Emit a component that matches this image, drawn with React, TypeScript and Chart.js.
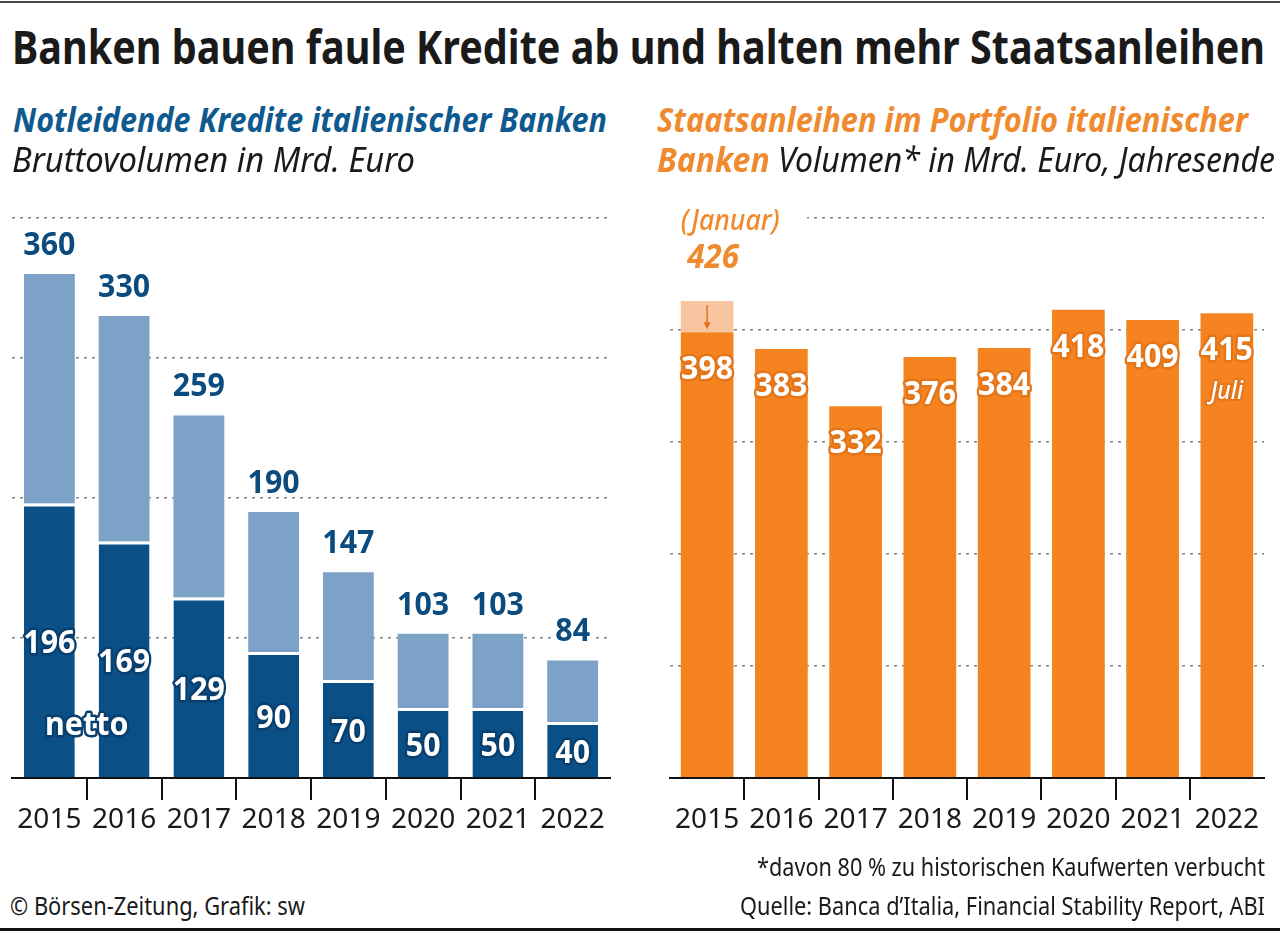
import React, { useEffect, useRef } from 'react';
import { Chart, registerables } from 'chart.js';

Chart.register(...registerables);

// ---------- data ----------
const years = ['2015', '2016', '2017', '2018', '2019', '2020', '2021', '2022'];
const bruttoNPL = [360, 330, 259, 190, 147, 103, 103, 84];
const nettoNPL = [196, 169, 129, 90, 70, 50, 50, 40];
const staatsanleihen = [398, 383, 332, 376, 384, 418, 409, 415];
const januarSpitze: (number | null)[] = [426, null, null, null, null, null, null, null];
const leftAxisMax = 400;
const rightAxisMax = 500;
const gridStep = 100;
const nettoText = 'netto';
const januarText = '(Januar)';
const juliText = 'Juli';

// ---------- styles ----------
const FAMILY = '"Noto Sans", "Open Sans", sans-serif';
const DARK = '#0a5087';
const LIGHT = '#7da2c7';
const DARK_STROKE = '#083f6e';
const TOP_BLUE = '#0b4b7e';
const ORANGE = '#f5831f';
const ORANGE_LIGHT = '#f9c4a0';
const ORANGE_STROKE = '#e3761a';
const ORANGE_TEXT = '#ef8a2e';
const GRID = '#858585';

document.body.style.margin = '0';

const mctx = document.createElement('canvas').getContext('2d') as CanvasRenderingContext2D;

type Part = { text: string; color: string; weight?: number; italic?: boolean };

function fontOf(p: { weight?: number; italic?: boolean }, size: number) {
  return `${p.italic ? 'italic ' : ''}${p.weight || 400} ${size}px ${FAMILY}`;
}

function Line(props: { left: number; right: number; baseline: number; size: number; parts: Part[] }) {
  const { left, right, baseline, size, parts } = props;
  let total = 0;
  let asc = 0;
  let desc = 0;
  parts.forEach((p) => {
    mctx.font = fontOf(p, size);
    const m = mctx.measureText(p.text);
    total += m.width;
    asc = Math.max(asc, m.fontBoundingBoxAscent || size * 1.069);
    desc = Math.max(desc, m.fontBoundingBoxDescent || size * 0.293);
  });
  const scale = (right - left) / total;
  const lh = size;
  const top = baseline - ((lh - (asc + desc)) / 2 + asc);
  return (
    <div
      style={{
        position: 'absolute',
        left,
        top,
        whiteSpace: 'pre',
        lineHeight: lh + 'px',
        fontSize: size,
        fontFamily: FAMILY,
        transform: `scaleX(${scale})`,
        transformOrigin: '0 0',
      }}
    >
      {parts.map((p, i) => (
        <span key={i} style={{ color: p.color, fontWeight: p.weight || 400, fontStyle: p.italic ? 'italic' : 'normal' }}>
          {p.text}
        </span>
      ))}
    </div>
  );
}

function drawText(
  ctx: CanvasRenderingContext2D,
  text: string,
  x: number,
  y: number,
  font: string,
  fill: string,
  stroke: string | null,
  lw: number,
  sx: number
) {
  ctx.save();
  ctx.translate(x, y);
  ctx.scale(sx, 1);
  ctx.font = font;
  ctx.textAlign = 'center';
  ctx.textBaseline = 'alphabetic';
  if (stroke) {
    ctx.lineWidth = lw;
    ctx.strokeStyle = stroke;
    ctx.lineJoin = 'round';
    ctx.strokeText(text, 0, 0);
  }
  ctx.fillStyle = fill;
  ctx.fillText(text, 0, 0);
  ctx.restore();
}

const leftLabels = {
  id: 'leftLabels',
  afterDatasetsDraw(chart: any) {
    const ctx = chart.ctx as CanvasRenderingContext2D;
    const nettoMeta = chart.getDatasetMeta(0);
    const restMeta = chart.getDatasetMeta(1);
    const bold = `700 33px ${FAMILY}`;
    nettoMeta.data.forEach((bar: any, i: number) => {
      const mid = (bar.y + bar.base) / 2;
      drawText(ctx, String(nettoNPL[i]), bar.x, mid + 13, bold, '#ffffff', DARK_STROKE, 5, 0.92);
    });
    restMeta.data.forEach((bar: any, i: number) => {
      drawText(ctx, String(bruttoNPL[i]), bar.x, bar.y - 19, bold, TOP_BLUE, '#ffffff', 7, 0.92);
    });
    const b0 = nettoMeta.data[0];
    const b1 = nettoMeta.data[1];
    const base = chart.scales.y.getPixelForValue(0);
    drawText(ctx, nettoText, (b0.x + b1.x) / 2, base - 43, `700 32px ${FAMILY}`, '#ffffff', DARK_STROKE, 5, 0.95);
  },
};

const rightLabels = {
  id: 'rightLabels',
  afterDatasetsDraw(chart: any) {
    const ctx = chart.ctx as CanvasRenderingContext2D;
    const meta = chart.getDatasetMeta(0);
    const bold = `700 33px ${FAMILY}`;
    meta.data.forEach((bar: any, i: number) => {
      drawText(ctx, String(staatsanleihen[i]), bar.x, bar.y + 47, bold, '#ffffff', ORANGE_STROKE, 5, 0.92);
    });
    const last = meta.data[meta.data.length - 1];
    drawText(ctx, juliText, last.x, last.y + 86, `italic 500 25px ${FAMILY}`, '#ffffff', ORANGE_STROKE, 4, 0.92);

    const jm = chart.getDatasetMeta(1);
    januarSpitze.forEach((v, i) => {
      if (v == null) return;
      const seg = jm.data[i];
      const x = seg.x;
      const top = chart.scales.y.getPixelForValue(v);
      const low = chart.scales.y.getPixelForValue(staatsanleihen[i]);
      // white background behind the annotation
      ctx.save();
      ctx.fillStyle = '#ffffff';
      ctx.fillRect(x - 42, top - 98, 142, 34);
      ctx.restore();
      drawText(ctx, januarText, x + 23, top - 71, `italic 500 28px ${FAMILY}`, ORANGE_TEXT, null, 0, 0.95);
      drawText(ctx, String(v), x + 6, top - 33, `italic 700 34px ${FAMILY}`, ORANGE_TEXT, null, 0, 0.92);
      // arrow
      ctx.save();
      ctx.strokeStyle = ORANGE_STROKE;
      ctx.fillStyle = ORANGE_STROKE;
      ctx.lineWidth = 1.5;
      ctx.beginPath();
      ctx.moveTo(x, top + 4);
      ctx.lineTo(x, low - 4);
      ctx.stroke();
      ctx.beginPath();
      ctx.moveTo(x - 3.5, low - 10);
      ctx.lineTo(x + 3.5, low - 10);
      ctx.lineTo(x, low - 3);
      ctx.closePath();
      ctx.fill();
      ctx.restore();
    });
  },
};

function xScale(n: number) {
  return {
    stacked: true,
    grid: {
      offset: true,
      drawOnChartArea: false,
      drawTicks: true,
      tickLength: 22,
      lineWidth: 2,
      color: (c: any) => (c.type !== 'tick' || c.index === 0 || c.index === n ? 'rgba(0,0,0,0)' : '#111111'),
      tickColor: (c: any) => (c.type !== 'tick' || c.index === 0 || c.index === n ? 'rgba(0,0,0,0)' : '#111111'),
    },
    border: { display: true, color: '#111111', width: 2, z: 1 },
    ticks: { color: '#1a1a1a', font: { size: 28, family: FAMILY }, padding: 3, maxRotation: 0, autoSkip: false },
    afterFit: (s: any) => {
      s.height = 72;
    },
  };
}

function yScale(max: number) {
  return {
    stacked: true,
    min: 0,
    max,
    ticks: { display: false, stepSize: gridStep },
    grid: { color: GRID, lineWidth: 1.5, drawTicks: false },
    border: { display: false, dash: [3, 5] },
    afterFit: (s: any) => {
      s.width = 0;
    },
  };
}

function LeftChart() {
  const ref = useRef<HTMLCanvasElement>(null);
  useEffect(() => {
    const chart = new Chart(ref.current as HTMLCanvasElement, {
      type: 'bar',
      data: {
        labels: years,
        datasets: [
          {
            label: 'netto',
            data: nettoNPL,
            backgroundColor: DARK,
            borderColor: '#ffffff',
            borderWidth: { top: 3, left: 0, right: 0, bottom: 0 },
            borderSkipped: false,
            stack: 's',
          },
          {
            label: 'brutto',
            data: bruttoNPL.map((b, i) => b - nettoNPL[i]),
            backgroundColor: LIGHT,
            borderWidth: 0,
            stack: 's',
          },
        ],
      },
      options: {
        animation: false,
        responsive: false,
        devicePixelRatio: 1,
        layout: { padding: { left: 12, right: 30, top: 38, bottom: 10 } },
        plugins: { legend: { display: false }, tooltip: { enabled: false } },
        datasets: { bar: { categoryPercentage: 1, barPercentage: 0.68 } },
        scales: { x: xScale(years.length), y: yScale(leftAxisMax) },
      } as any,
      plugins: [leftLabels],
    });
    return () => chart.destroy();
  }, []);
  return <canvas ref={ref} width={640} height={680} style={{ position: 'absolute', left: 0, top: 180 }} />;
}

function RightChart() {
  const ref = useRef<HTMLCanvasElement>(null);
  useEffect(() => {
    const chart = new Chart(ref.current as HTMLCanvasElement, {
      type: 'bar',
      data: {
        labels: years,
        datasets: [
          {
            label: 'Jahresende',
            data: staatsanleihen,
            backgroundColor: ORANGE,
            borderWidth: 0,
            stack: 's',
          },
          {
            label: 'Januar',
            data: januarSpitze.map((v, i) => (v == null ? null : v - staatsanleihen[i])),
            backgroundColor: ORANGE_LIGHT,
            borderWidth: 0,
            stack: 's',
          },
        ],
      },
      options: {
        animation: false,
        responsive: false,
        devicePixelRatio: 1,
        layout: { padding: { left: 30, right: 16, top: 38, bottom: 10 } },
        plugins: { legend: { display: false }, tooltip: { enabled: false } },
        datasets: { bar: { categoryPercentage: 1, barPercentage: 0.71 } },
        scales: { x: xScale(years.length), y: yScale(rightAxisMax) },
      } as any,
      plugins: [rightLabels],
    });
    return () => chart.destroy();
  }, []);
  return <canvas ref={ref} width={640} height={680} style={{ position: 'absolute', left: 640, top: 180 }} />;
}

export default function App() {
  const black = '#1a1a1a';
  return (
    <div style={{ position: 'relative', width: 1280, height: 931, overflow: 'hidden', background: '#ffffff' }}>
      <div style={{ position: 'absolute', left: 0, top: 1, width: 1280, height: 2, background: '#4a4a4a' }} />
      <div style={{ position: 'absolute', left: 0, top: 928, width: 1280, height: 3, background: '#111111' }} />
      <LeftChart />
      <RightChart />
      <Line left={12} right={1265} baseline={64} size={47} parts={[{ text: 'Banken bauen faule Kredite ab und halten mehr Staatsanleihen', color: black, weight: 700 }]} />
      <Line left={13} right={607} baseline={132} size={34} parts={[{ text: 'Notleidende Kredite italienischer Banken', color: '#0e5a8e', weight: 700, italic: true }]} />
      <Line left={12} right={415} baseline={172} size={34} parts={[{ text: 'Bruttovolumen in Mrd. Euro', color: black, italic: true }]} />
      <Line left={657} right={1248} baseline={132} size={34} parts={[{ text: 'Staatsanleihen im Portfolio italienischer', color: ORANGE_TEXT, weight: 700, italic: true }]} />
      <Line
        left={657}
        right={1275}
        baseline={172}
        size={34}
        parts={[
          { text: 'Banken', color: ORANGE_TEXT, weight: 700, italic: true },
          { text: ' Volumen* in Mrd. Euro, Jahresende', color: black, italic: true },
        ]}
      />
      <Line left={757} right={1265} baseline={876} size={26} parts={[{ text: '*davon 80 % zu historischen Kaufwerten verbucht', color: black }]} />
      <Line left={740} right={1265} baseline={915} size={26} parts={[{ text: 'Quelle: Banca d’Italia, Financial Stability Report, ABI', color: black }]} />
      <Line left={10} right={305} baseline={915} size={26} parts={[{ text: '© Börsen-Zeitung, Grafik: sw', color: black }]} />
    </div>
  );
}
